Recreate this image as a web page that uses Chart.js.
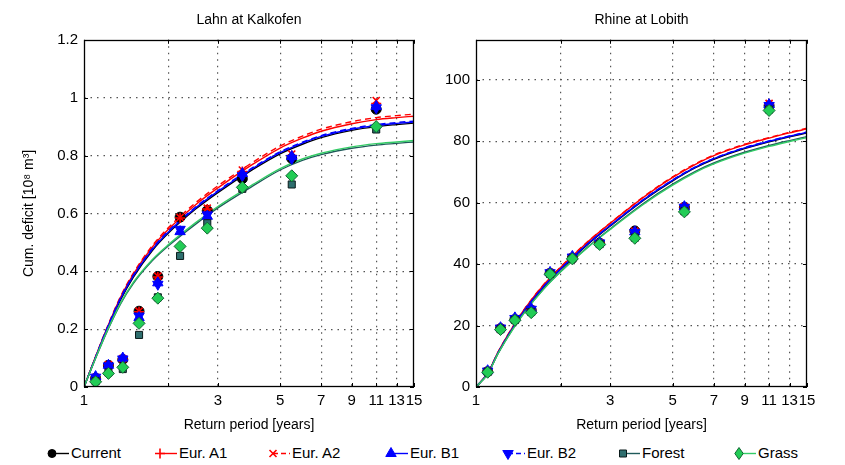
<!DOCTYPE html>
<html><head><meta charset="utf-8">
<script src="https://cdn.jsdelivr.net/npm/chart.js@4.4.1/dist/chart.umd.min.js"></script>
<style>
html,body{margin:0;padding:0;background:#fff;width:845px;height:465px;overflow:hidden;font-family:"Liberation Sans",Arial,sans-serif;}
#left{position:absolute;left:0;top:0;width:430px;height:440px;}
#right{position:absolute;left:430px;top:0;width:415px;height:440px;}
#legend{position:absolute;left:0;top:440px;width:845px;height:25px;}
.item{position:absolute;top:0;height:25px;display:flex;align-items:center;font-size:15px;color:#000;white-space:nowrap;}
.item canvas{width:26px;height:16px;margin-right:1px;}
</style></head><body>
<div id="left"><canvas id="cl"></canvas></div>
<div id="right"><canvas id="cr"></canvas></div>
<div id="legend"></div>
<script>
// ---------- data ----------
const SERIES_NAMES = ['Current','Eur. A1','Eur. A2','Eur. B1','Eur. B2','Forest','Grass'];
const X_TICKS = [1,2,3,5,7,9,11,13,15];
const X_TICK_LABELS = ['1','','3','5','7','9','11','13','15'];
const LAHN_Y_TICKS = [0,0.2,0.4,0.6,0.8,1,1.2];
const LAHN_Y_LABELS = ['0','0.2','0.4','0.6','0.8','1','1.2'];
const RHINE_Y_TICKS = [0,20,40,60,80,100];
const RHINE_Y_LABELS = ['0','20','40','60','80','100'];

// empirical return periods of the observed points
const T_OBS = [1.1,1.222,1.375,1.571,1.833,2.2,2.75,3.667,5.5,11];
// return periods at which the fitted curves are read
const T_FIT = [1,1.1,1.2,1.35,1.5,1.75,2,2.5,3,4,5,6,7,9,11,13,15];

// Lahn at Kalkofen – observed points
const lahnObsCurrent = [0.030,0.075,0.095,0.262,0.382,0.587,0.610,0.720,0.790,0.960];
const lahnObsA1      = [0.032,0.076,0.097,0.260,0.380,0.584,0.615,0.745,0.800,0.980];
const lahnObsA2      = [0.033,0.077,0.098,0.262,0.383,0.586,0.618,0.750,0.805,0.990];
const lahnObsB1      = [0.036,0.075,0.100,0.240,0.360,0.537,0.590,0.738,0.797,0.970];
const lahnObsB2      = [0.034,0.073,0.097,0.245,0.355,0.545,0.595,0.730,0.790,0.965];
const lahnObsForest  = [0.020,0.050,0.062,0.180,0.310,0.453,0.566,0.685,0.700,0.890];
const lahnObsGrass   = [0.018,0.047,0.068,0.220,0.307,0.486,0.549,0.690,0.730,0.900];
// Lahn – fitted curves
const lahnFitCurrent = [0,0.103,0.190,0.301,0.380,0.471,0.532,0.615,0.672,0.752,0.806,0.839,0.862,0.887,0.900,0.907,0.912];
const lahnFitA1      = [0,0.105,0.197,0.310,0.390,0.483,0.545,0.630,0.688,0.770,0.826,0.860,0.884,0.910,0.924,0.931,0.936];
const lahnFitA2      = [0,0.105,0.199,0.313,0.394,0.488,0.551,0.637,0.695,0.777,0.833,0.867,0.891,0.917,0.931,0.938,0.943];
const lahnFitB1      = [0,0.103,0.194,0.305,0.384,0.475,0.536,0.619,0.676,0.756,0.810,0.843,0.866,0.891,0.904,0.911,0.916];
const lahnFitB2      = [0,0.104,0.196,0.308,0.387,0.478,0.539,0.622,0.679,0.759,0.813,0.846,0.869,0.894,0.907,0.914,0.919];
const lahnFitForest  = [0,0.099,0.185,0.287,0.358,0.436,0.488,0.563,0.619,0.695,0.750,0.783,0.803,0.825,0.836,0.842,0.847];
const lahnFitGrass   = [0,0.100,0.187,0.290,0.362,0.440,0.492,0.568,0.624,0.700,0.755,0.788,0.808,0.830,0.841,0.847,0.852];

// Rhine at Lobith – observed points
const rhineObsCurrent = [5.0,19.0,22.0,25.0,37.0,42.0,46.8,50.8,58.5,91.5];
const rhineObsA1      = [5.1,19.1,22.1,25.2,37.1,42.1,46.9,50.6,58.6,92.0];
const rhineObsA2      = [5.2,19.2,22.2,25.3,37.2,42.2,47.0,50.7,58.7,92.3];
const rhineObsB1      = [5.3,19.3,22.5,25.5,37.3,42.5,47.0,50.5,58.7,91.9];
const rhineObsB2      = [5.2,19.2,22.3,25.3,37.2,42.3,46.9,50.3,58.5,91.6];
const rhineObsForest  = [4.9,18.8,21.8,24.4,36.8,41.8,46.5,48.6,57.2,90.3];
const rhineObsGrass   = [4.8,18.7,21.7,24.2,36.7,41.7,46.4,48.4,57.0,90.0];
// Rhine – fitted curves
const rhineFitCurrent = [0,4.4,11.2,19.1,25.3,32.8,38.3,46.5,52.4,61.2,67.1,71.3,74.1,77.6,79.8,81.4,82.7];
const rhineFitA1      = [0,4.5,11.5,19.5,25.8,33.5,39.0,47.3,53.3,62.2,68.2,72.4,75.3,78.8,81.0,82.7,84.0];
const rhineFitA2      = [0,4.5,11.5,19.6,25.9,33.6,39.1,47.4,53.4,62.4,68.4,72.6,75.5,79.0,81.2,82.9,84.2];
const rhineFitB1      = [0,4.4,11.3,19.2,25.4,33.0,38.5,46.7,52.6,61.4,67.3,71.5,74.3,77.8,80.0,81.6,82.9];
const rhineFitB2      = [0,4.4,11.3,19.2,25.4,33.0,38.5,46.7,52.6,61.5,67.4,71.6,74.4,77.9,80.1,81.7,83.0];
const rhineFitForest  = [0,4.2,11.0,18.8,24.8,32.2,37.6,45.6,51.5,60.2,66.0,70.1,72.9,76.4,78.6,80.2,81.5];
const rhineFitGrass   = [0,4.2,11.0,18.7,24.7,32.1,37.5,45.5,51.3,59.9,65.7,69.8,72.6,76.1,78.3,79.9,81.2];

// ---------- styles ----------
const STYLES = [
  {line:'#000000', dash:[],    point:'circle',   r:5, fill:'#000000', edge:'#000000'},
  {line:'#ff0000', dash:[],    point:'cross',    r:5, fill:'#ff0000', edge:'#ff0000'},
  {line:'#ff0000', dash:[6,4], point:'crossRot', r:5, fill:'#ff0000', edge:'#ff0000'},
  {line:'#0000ff', dash:[],    point:'triangle', r:6, fill:'#0000ff', edge:'#0000ff'},
  {line:'#0000ff', dash:[6,4], point:'triangle', r:6, fill:'#0000ff', edge:'#0000ff', rot:180},
  {line:'#1f5a5a', dash:[],    point:'rect',     r:5, fill:'#2e6e6e', edge:'#0a1a1a'},
  {line:'#33cc66', dash:[],    point:'rectRot',  r:6, fill:'#22cc55', edge:'#116633'}
];

Chart.defaults.font.family = '"Liberation Sans", Arial, sans-serif';
Chart.defaults.color = '#000';

function pts(xs, ys){ return xs.map((x,i)=>({x:x, y:ys[i]})); }

function buildDatasets(fits, obs){
  const ds = [];
  fits.forEach((f,i)=>{
    const s = STYLES[i];
    ds.push({type:'line', label:SERIES_NAMES[i]+' fit', data:pts(T_FIT,f), borderColor:s.line, borderWidth:1.4,
      borderDash:s.dash, pointRadius:0, fill:false, cubicInterpolationMode:'monotone', order:30-i});
  });
  obs.forEach((o,i)=>{
    const s = STYLES[i];
    ds.push({type:'scatter', label:SERIES_NAMES[i], data:pts(T_OBS,o), showLine:false,
      pointStyle:s.point, pointRadius:s.r, pointRotation:s.rot||0, backgroundColor:s.fill,
      borderColor:s.edge, pointBorderWidth:(s.point==='cross'||s.point==='crossRot')?1.6:1, order:16-i});
  });
  return ds;
}

const boxPlugin = {
  id:'box',
  afterDraw(chart){
    const {ctx, chartArea:a, scales} = chart;
    ctx.save();
    ctx.strokeStyle = '#000'; ctx.lineWidth = 1.3;
    ctx.strokeRect(Math.round(a.left)+0.5, Math.round(a.top)+0.5, Math.round(a.width)-1, Math.round(a.height)-1);
    ctx.lineWidth = 1;
    ctx.beginPath();
    scales.x.ticks.forEach(t=>{
      const px = Math.round(scales.x.getPixelForValue(t.value))+0.5;
      ctx.moveTo(px, a.bottom); ctx.lineTo(px, a.bottom-4);
      ctx.moveTo(px, a.top); ctx.lineTo(px, a.top+4);
    });
    scales.y.ticks.forEach(t=>{
      const py = Math.round(scales.y.getPixelForValue(t.value))+0.5;
      ctx.moveTo(a.left, py); ctx.lineTo(a.left+4, py);
      ctx.moveTo(a.right, py); ctx.lineTo(a.right-4, py);
    });
    ctx.stroke();
    ctx.restore();
  }
};

function makeChart(id, title, fits, obs, yMax, yTicks, yLabels, yWidth, padRight, yTitle){
  return new Chart(document.getElementById(id), {
    type:'scatter',
    data:{datasets:buildDatasets(fits, obs)},
    options:{
      responsive:true, maintainAspectRatio:false, animation:false,
      layout:{padding:{left:0, right:padRight, top:0, bottom:0}},
      plugins:{
        legend:{display:false}, tooltip:{enabled:false},
        title:{display:true, text:title, fullSize:false, font:{size:14, weight:'normal'}, color:'#000', padding:{top:12, bottom:11}}
      },
      scales:{
        x:{
          type:'logarithmic', min:1, max:15,
          afterBuildTicks:s=>{ s.ticks = X_TICKS.map(v=>({value:v})); },
          afterFit:s=>{ s.height = 53; },
          ticks:{autoSkip:false, maxRotation:0, minRotation:0, padding:5, font:{size:15}, color:'#000',
            callback:(v)=>{ const i = X_TICKS.indexOf(v); return i>=0 ? X_TICK_LABELS[i] : ''; }},
          grid:{drawTicks:false, lineWidth:1.2,
            color:c=> (c.tick && (c.tick.value===1 || c.tick.value===15)) ? 'rgba(0,0,0,0)' : '#555'},
          border:{display:false, dash:[1.5,5]},
          title:{display:true, text:'Return period [years]', font:{size:14}, color:'#000', padding:{top:0,bottom:6}}
        },
        y:{
          type:'linear', min:0, max:yMax,
          afterBuildTicks:s=>{ s.ticks = yTicks.map(v=>({value:v})); },
          afterFit:s=>{ s.width = yWidth; },
          ticks:{padding:6, font:{size:15}, color:'#000',
            callback:(v)=>{ const i = yTicks.indexOf(v); return i>=0 ? yLabels[i] : ''; }},
          grid:{drawTicks:false, lineWidth:1.2,
            color:c=> (c.tick && (c.tick.value===0 || c.tick.value===yMax)) ? 'rgba(0,0,0,0)' : '#555'},
          border:{display:false, dash:[1.5,5]},
          title:{display:!!yTitle, text:yTitle||'', font:{size:14}, color:'#000', padding:{top:21,bottom:0}}
        }
      }
    },
    plugins:[boxPlugin]
  });
}

makeChart('cl','Lahn at Kalkofen',
  [lahnFitCurrent,lahnFitA1,lahnFitA2,lahnFitB1,lahnFitB2,lahnFitForest,lahnFitGrass],
  [lahnObsCurrent,lahnObsA1,lahnObsA2,lahnObsB1,lahnObsB2,lahnObsForest,lahnObsGrass],
  1.2, LAHN_Y_TICKS, LAHN_Y_LABELS, 84, 16, 'Cum. deficit [10\u2078 m\u00B3]');
makeChart('cr','Rhine at Lobith',
  [rhineFitCurrent,rhineFitA1,rhineFitA2,rhineFitB1,rhineFitB2,rhineFitForest,rhineFitGrass],
  [rhineObsCurrent,rhineObsA1,rhineObsA2,rhineObsB1,rhineObsB2,rhineObsForest,rhineObsGrass],
  113, RHINE_Y_TICKS, RHINE_Y_LABELS, 46, 38, null);

// ---------- legend ----------
const LEGEND_X = [44,152,265,383,500,615,731];
function drawMarker(ctx, s, x, y){
  const r = s.r;
  ctx.save();
  ctx.translate(x,y);
  if (s.rot) ctx.rotate(s.rot*Math.PI/180);
  ctx.fillStyle = s.fill; ctx.strokeStyle = s.edge; ctx.lineWidth = 1;
  ctx.beginPath();
  switch(s.point){
    case 'circle': ctx.arc(0,0,r-1,0,Math.PI*2); ctx.fill(); ctx.stroke(); break;
    case 'cross': ctx.lineWidth=1.6; ctx.moveTo(-r,0); ctx.lineTo(r,0); ctx.moveTo(0,-r); ctx.lineTo(0,r); ctx.stroke(); break;
    case 'crossRot': ctx.lineWidth=1.6; const d=r*0.7; ctx.moveTo(-d,-d); ctx.lineTo(d,d); ctx.moveTo(-d,d); ctx.lineTo(d,-d); ctx.stroke(); break;
    case 'triangle': ctx.moveTo(0,-r); ctx.lineTo(r*0.87,r*0.5); ctx.lineTo(-r*0.87,r*0.5); ctx.closePath(); ctx.fill(); ctx.stroke(); break;
    case 'rect': ctx.rect(-r*0.7,-r*0.7,r*1.4,r*1.4); ctx.fill(); ctx.stroke(); break;
    case 'rectRot': ctx.moveTo(0,-r); ctx.lineTo(r*0.7,0); ctx.lineTo(0,r); ctx.lineTo(-r*0.7,0); ctx.closePath(); ctx.fill(); ctx.stroke(); break;
  }
  ctx.restore();
}
const legend = document.getElementById('legend');
SERIES_NAMES.forEach((name,i)=>{
  const s = STYLES[i];
  const item = document.createElement('div');
  item.className = 'item'; item.style.left = LEGEND_X[i]+'px';
  const cv = document.createElement('canvas'); cv.width = 26; cv.height = 16;
  const ctx = cv.getContext('2d');
  ctx.strokeStyle = s.line; ctx.lineWidth = 1.4; ctx.setLineDash(s.dash.length ? [5,3] : []);
  ctx.beginPath(); ctx.moveTo(8,8.5); ctx.lineTo(25,8.5); ctx.stroke(); ctx.setLineDash([]);
  drawMarker(ctx, s, 8, 8.5);
  const sp = document.createElement('span'); sp.textContent = name;
  item.appendChild(cv); item.appendChild(sp);
  legend.appendChild(item);
});
</script>
</body></html>
